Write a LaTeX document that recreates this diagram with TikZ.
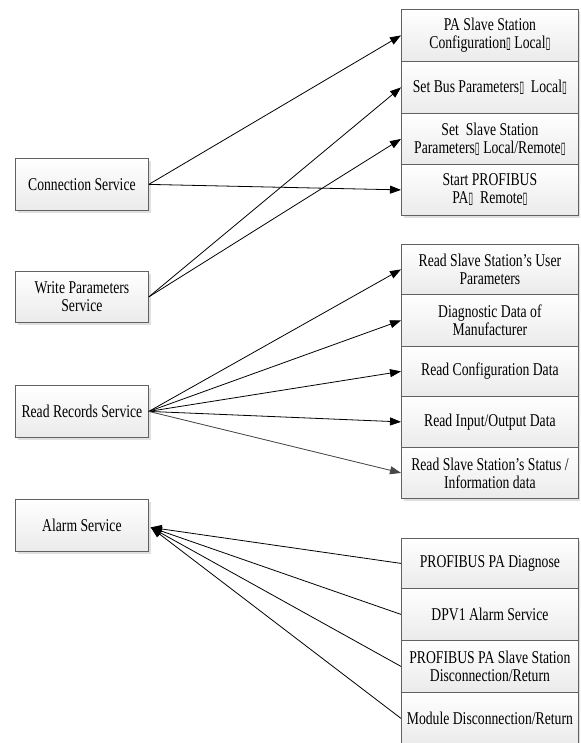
\documentclass[tikz,border=0pt]{standalone}
\usepackage{fontspec}
\setmainfont{Liberation Serif}[FakeStretch=0.76]
\newfontfamily\symfont{DejaVu Sans}[FakeStretch=0.55]
\usetikzlibrary{arrows.meta,shadows}
\newcommand{\tofu}{{\symfont\fontsize{16}{16}\selectfont ▯}}
\begin{document}
\begin{tikzpicture}[x=1pt,y=-1pt,
  boxstyle/.style={draw=black!62, line width=0.8pt, top color=white, bottom color=black!8,
    inner sep=0pt, align=center, anchor=north west,
    font=\fontsize{18}{18}\selectfont,
    drop shadow={shadow xshift=2.5pt, shadow yshift=-2.5pt, fill=black!12, opacity=1}},
  lbox/.style={boxstyle, minimum width=133pt},
  rbox/.style={boxstyle, minimum width=177pt},
  arr/.style={draw=black, line width=0.8pt, -{Triangle[length=11pt,width=8pt]}},
  garr/.style={arr, draw=black!72, fill=black!72}]
\useasboundingbox (0,0) rectangle (580,743);
\clip (0,0) rectangle (580,743);
% left boxes
\node[lbox, minimum height=52pt] (cs) at (15,158) {Connection Service};
\node[lbox, minimum height=51pt] (wp) at (15,271) {Write Parameters\\Service};
\node[lbox, minimum height=52pt] (rr) at (15,385) {Read Records Service};
\node[lbox, minimum height=52pt] (al) at (15,499) {Alarm Service};
% group 1
\node[rbox, minimum height=52pt] (g1a) at (401,9) {PA Slave Station\\Configuration\tofu\ Local\tofu};
\node[rbox, minimum height=52pt] (g1b) at (401,61) {Set Bus Parameters\tofu\ \ Local\tofu};
\node[rbox, minimum height=51pt] (g1c) at (401,113) {Set \ Slave Station\\Parameters\tofu\ Local/Remote\tofu};
\node[rbox, minimum height=51pt] (g1d) at (401,164) {Start PROFIBUS\\PA\tofu\ \ Remote\tofu};
% group 2
\node[rbox, minimum height=50pt] (g2a) at (401,244) {Read Slave Station's User\\Parameters};
\node[rbox, minimum height=52pt] (g2b) at (401,294) {Diagnostic Data of\\Manufacturer};
\node[rbox, minimum height=50pt] (g2c) at (401,346) {Read Configuration Data};
\node[rbox, minimum height=51pt] (g2d) at (401,396) {Read Input/Output Data};
\node[rbox, minimum height=51pt] (g2e) at (401,447) {Read Slave Station's Status /\\Information data};
% group 3
\node[rbox, minimum height=50pt] (g3a) at (401,538) {PROFIBUS PA Diagnose};
\node[rbox, minimum height=52pt] (g3b) at (401,588) {DPV1 Alarm Service};
\node[rbox, minimum height=52pt] (g3c) at (401,640) {PROFIBUS PA Slave Station\\Disconnection/Return};
\node[rbox, minimum height=52pt] (g3d) at (401,692) {Module Disconnection/Return};
% connectors
\draw[arr] (cs.east) -- (g1a.west);
\draw[arr] (cs.east) -- (g1d.west);
\draw[arr] (wp.east) -- (g1b.west);
\draw[arr] (wp.east) -- (g1c.west);
\draw[arr] (rr.east) -- (g2a.west);
\draw[arr] (rr.east) -- (g2b.west);
\draw[arr] (rr.east) -- (g2c.west);
\draw[arr] (rr.east) -- (g2d.west);
\draw[garr] (rr.east) -- (g2e.west);
\coordinate (alt) at ([shift={(2,2)}]al.east);
\draw[arr] (g3a.west) -- (alt);
\draw[arr] (g3b.west) -- (alt);
\draw[arr] (g3c.west) -- (alt);
\draw[arr] (g3d.west) -- (alt);
\end{tikzpicture}
\end{document}
